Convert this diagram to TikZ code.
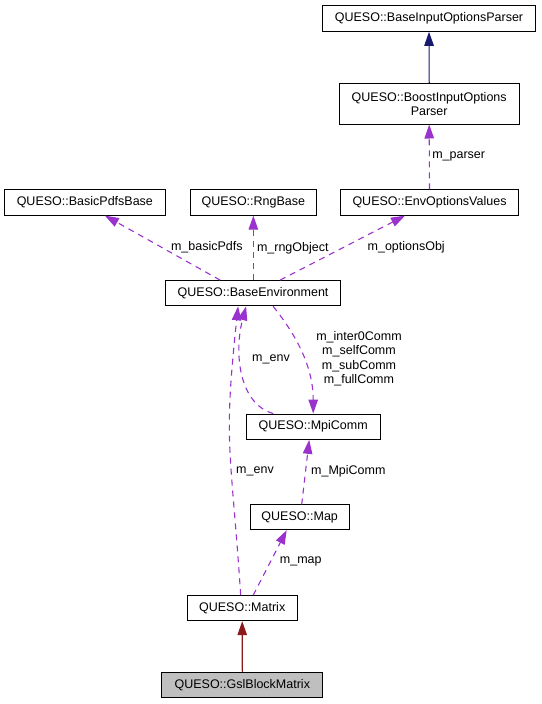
\documentclass[tikz,border=0pt]{standalone}
\usepackage{fontspec}
\setmainfont{Liberation Sans}
\usetikzlibrary{arrows.meta}
\definecolor{dpurple}{HTML}{9A32CD}
\definecolor{dnavy}{HTML}{191970}
\definecolor{dred}{HTML}{8B1A1A}
\definecolor{dgrey}{HTML}{BFBFBF}
\newcommand{\dfont}{\fontsize{12.5}{14.5}\selectfont}
\begin{document}
\begin{tikzpicture}[x=1pt,y=-1pt,
  cls/.style={draw=black, line width=1pt, inner sep=0pt, font=\dfont, align=center},
  tip/.style={-{Triangle[length=14pt,width=9.5pt]}},
  rel/.style={draw=dpurple, line width=1.1pt, dash pattern=on 6pt off 5pt, tip},
  inh/.style={line width=1.1pt, tip},
  lbl/.style={font=\dfont, inner sep=0pt, align=center}]
\useasboundingbox (0,0) rectangle (541,704);
% classes
\node[cls, minimum width=213.4pt, minimum height=26pt] (bip) at (429,18.3) {QUESO::BaseInputOptionsParser};
\node[cls, minimum width=180.3pt, minimum height=40.3pt] (boost) at (429.2,103.85) {QUESO::BoostInputOptions\\Parser};
\node[cls, minimum width=161.7pt, minimum height=25.7pt] (pdfs) at (84.85,202.2) {QUESO::BasicPdfsBase};
\node[cls, minimum width=126.7pt, minimum height=25.3pt] (rng) at (253.35,202.5) {QUESO::RngBase};
\node[cls, minimum width=177.6pt, minimum height=25.3pt] (env) at (429.5,202.5) {QUESO::EnvOptionsValues};
\node[cls, minimum width=174.8pt, minimum height=25.2pt] (base) at (253.1,293.2) {QUESO::BaseEnvironment};
\node[cls, minimum width=133.7pt, minimum height=25.3pt] (mpi) at (313.2,426.7) {QUESO::MpiComm};
\node[cls, minimum width=98.7pt, minimum height=24.7pt] (map) at (299.7,517.3) {QUESO::Map};
\node[cls, minimum width=109.7pt, minimum height=25pt] (matrix) at (242.2,608.2) {QUESO::Matrix};
\node[cls, fill=dgrey, minimum width=161.3pt, minimum height=25pt] (gsl) at (242.3,685.2) {QUESO::GslBlockMatrix};
% inheritance
\draw[inh, draw=dnavy] (boost.north) -- (bip.south);
\draw[inh, draw=dred] (gsl.north) -- (matrix.south);
% usage relations
\draw[rel] (env.north) -- (boost.south);
\draw[rel] ([xshift=-33pt]base.north) -- ([xshift=20pt]pdfs.south);
\draw[rel] (rng.south |- base.north) -- (rng.south);
\draw[rel] ([xshift=27pt]base.north) -- ([xshift=-24.5pt]env.south);
\draw[rel] ([xshift=-40pt]mpi.north) .. controls +(-35,-10) and +(-12,45) .. ([xshift=-7pt]base.south);
\draw[rel] ([xshift=-1.5pt]matrix.north) .. controls +(-10,-150) and +(-15,140) .. ([xshift=-15pt]base.south);
\draw[rel] ([xshift=20pt]base.south) .. controls +(20,25) and +(0,-50) .. (mpi.north);
\draw[rel] ([xshift=2pt]map.north) -- ([xshift=-4pt]mpi.south);
\draw[rel] ([xshift=11pt]matrix.north) -- ([xshift=-13pt]map.south);
% labels
\node[lbl] (lparser) at (458.7,156.7) {m\_parser};
\node[lbl] (lpdfs) at (206.8,247.3) {m\_basicPdfs};
\node[lbl] (lrng) at (292.8,248) {m\_rngObject};
\node[lbl] (lopt) at (406.2,247.3) {m\_optionsObj};
\node[lbl] (lcomm) at (359,358.7) {m\_inter0Comm\\m\_selfComm\\m\_subComm\\m\_fullComm};
\node[lbl] (lenv1) at (271,359.3) {m\_env};
\node[lbl] (lenv2) at (255,471) {m\_env};
\node[lbl] (lmpic) at (348.3,471) {m\_MpiComm};
\node[lbl] (lmap) at (300.8,561.7) {m\_map};
\end{tikzpicture}
\end{document}
